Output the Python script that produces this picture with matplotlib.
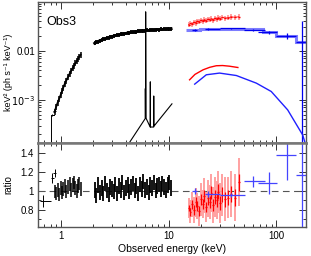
import numpy as np
import matplotlib
matplotlib.use("Agg")
import matplotlib.pyplot as plt
from matplotlib.ticker import FixedLocator, FixedFormatter, NullFormatter, LogLocator, MultipleLocator

plt.rcParams['font.family'] = ['Liberation Sans', 'DejaVu Sans']

# ---- black: soft X-ray data (two segments) ----
e_lo = [0.87, 0.90, 0.93, 0.96, 0.99, 1.02, 1.05, 1.08, 1.12, 1.16,
        1.20, 1.24, 1.28, 1.32, 1.36, 1.40, 1.44, 1.48, 1.52]
f_lo = [5.6e-4, 7.2e-4, 8.8e-4, 1.05e-3, 1.25e-3, 1.5e-3, 1.8e-3, 2.1e-3, 2.5e-3, 2.9e-3,
        3.4e-3, 3.9e-3, 4.4e-3, 5.0e-3, 5.6e-3, 6.2e-3, 6.9e-3, 7.6e-3, 8.3e-3]
r_lo = [0.99, 0.97, 1.01, 0.96, 1.03, 0.98, 1.02, 1.05, 0.99, 1.04,
        1.07, 1.01, 1.06, 1.09, 1.03, 1.00, 1.05, 1.08, 1.02]

e_hi = [2.05, 2.13, 2.21, 2.29, 2.38, 2.47, 2.56, 2.66, 2.76, 2.86, 2.97, 3.08, 3.20, 3.32,
        3.45, 3.58, 3.71, 3.85, 4.00, 4.15, 4.31, 4.47, 4.64, 4.82, 5.00, 5.19, 5.39, 5.59,
        5.80, 6.02, 6.25, 6.49, 6.73, 6.99, 7.25, 7.53, 7.81, 8.11, 8.42, 8.74, 9.07, 9.41,
        9.77, 10.14, 10.52]
f_hi = [0.0142, 0.0150, 0.0154, 0.0161, 0.0165, 0.0172, 0.0175, 0.0182, 0.0186, 0.0192,
        0.0195, 0.0199, 0.0205, 0.0207, 0.0213, 0.0216, 0.0219, 0.0224, 0.0226, 0.0231,
        0.0233, 0.0237, 0.0239, 0.0243, 0.0244, 0.0249, 0.0250, 0.0254, 0.0253, 0.0258,
        0.0262, 0.0259, 0.0264, 0.0266, 0.0263, 0.0269, 0.0271, 0.0268, 0.0274, 0.0272,
        0.0276, 0.0273, 0.0279, 0.0275, 0.0280]
r_hi = [1.01, 0.95, 1.06, 0.98, 1.03, 0.97, 1.08, 1.00, 0.96, 1.04, 1.02, 0.99, 1.07, 0.97,
        1.05, 1.01, 1.09, 0.98, 1.03, 1.06, 0.99, 1.04, 1.08, 1.00, 1.05, 0.97, 1.07, 1.02,
        1.10, 1.01, 1.04, 0.98, 1.06, 1.03, 1.09, 1.00, 1.05, 1.07, 1.02, 1.08, 1.04, 1.01,
        1.06, 1.09, 1.03]

# low-energy binned points in the ratio panel
e_first = [0.68, 0.83, 0.87]
e_first_lo = [0.64, 0.80, 0.85]
e_first_hi = [0.80, 0.86, 0.90]
f_first = [1.0e-4, 4.9e-4, 5.9e-4]
r_first = [0.895, 1.135, 1.19]
r_first_err = [0.06, 0.05, 0.04]

# ---- red: hard X-ray data ----
e_red = [15.3, 15.9, 16.5, 17.1, 17.8, 18.4, 19.1, 19.9, 20.6, 21.4, 22.2, 23.1,
         24.0, 24.9, 25.8, 26.8, 27.8, 28.9, 30.0, 31.5, 33.2, 35.5, 38.0, 41.0, 44.5]
f_red = [0.034, 0.036, 0.035, 0.038, 0.037, 0.040, 0.039, 0.042, 0.040, 0.043, 0.041, 0.044,
         0.043, 0.045, 0.042, 0.046, 0.044, 0.047, 0.045, 0.048, 0.046, 0.047, 0.049, 0.048, 0.049]
r_red = [0.82, 0.78, 0.86, 0.80, 0.88, 0.84, 0.79, 0.91, 0.86, 0.95, 0.83, 0.92,
         0.88, 0.98, 0.85, 0.94, 0.90, 0.99, 0.87, 0.96, 0.91, 0.93, 0.97, 0.93, 1.09]
r_red_err = [0.10, 0.12, 0.13, 0.14, 0.15, 0.14, 0.16, 0.17, 0.15, 0.18, 0.16, 0.19,
             0.18, 0.20, 0.19, 0.21, 0.20, 0.22, 0.21, 0.22, 0.23, 0.22, 0.24, 0.25, 0.25]

e_red_model = [15.6, 17.5, 20.8, 24.0, 27.6, 31.6, 36.5, 43.8]
f_red_model = [2.56e-3, 3.3e-3, 4.09e-3, 4.6e-3, 4.95e-3, 5.0e-3, 4.85e-3, 4.56e-3]

# ---- blue: BAT data ----
e_blue = [17.4, 23.0, 38.0, 61.0, 86.0, 126.0, 174.0]
e_blue_lo = [16.5, 21.5, 30.0, 50.0, 68.0, 100.0, 152.0]
e_blue_hi = [18.3, 30.0, 51.0, 78.0, 102.0, 152.0, 197.0]
f_blue = [0.0268, 0.0278, 0.0285, 0.0268, 0.0237, 0.0202, 0.0150]
f_blue_dn = [0.0010, 0.0010, 0.0008, 0.0012, 0.0020, 0.0030, 0.0149]
f_blue_up = [0.0010, 0.0010, 0.0008, 0.0012, 0.0020, 0.0030, 0.0260]
r_blue = [1.00, 0.97, 0.955, 1.10, 1.08, 1.38, 1.17]
r_blue_dn = [0.03, 0.03, 0.02, 0.055, 0.11, 0.27, 1.2]
r_blue_up = [0.03, 0.03, 0.02, 0.055, 0.12, 0.13, 1.2]

blue_step_edges = [14.6, 19.3, 30.0, 50.0, 75.0, 100.0, 152.0, 197.0]
blue_step_flux = [0.0268, 0.0281, 0.0281, 0.0275, 0.0236, 0.0202, 0.0153]

e_blue_model = [17.4, 22.3, 29.6, 42.4, 65.0, 89.4, 127.0, 175.0, 185.0]
f_blue_model = [2.09e-3, 3.24e-3, 3.51e-3, 3.13e-3, 2.19e-3, 1.48e-3, 6.25e-4, 1.93e-4, 1.3e-4]

# ---- black model component (continuum + Fe lines) ----
e_comp = [4.35, 6.06, 6.06, 6.07, 6.10, 6.10, 6.13, 6.72, 6.74, 6.76, 7.24, 7.25, 7.27, 10.7]
f_comp = [1.39e-4, 4.2e-4, 1.7e-3, 4.25e-4, 4.3e-4, 0.062, 4.3e-4, 2.8e-4, 2.33e-3, 2.8e-4,
          2.8e-4, 1.2e-3, 2.9e-4, 8.3e-4]
e_edge = [0.80, 0.80, 0.86]
f_edge = [1.0e-4, 4.9e-4, 4.9e-4]

fig = plt.figure(figsize=(3.11, 2.56), dpi=100)
ax1 = fig.add_axes([0.122, 0.443, 0.862, 0.549])
ax2 = fig.add_axes([0.122, 0.113, 0.862, 0.330], sharex=ax1)

for ax in (ax1, ax2):
    ax.set_xscale('log')
    for s in ax.spines.values():
        s.set_color('#555555')
        s.set_linewidth(1.0)
    ax.tick_params(which='both', direction='in', top=True, right=True, labelsize=7,
                   color='#333333', width=0.7, pad=3)
    ax.tick_params(which='major', length=5)
    ax.tick_params(which='minor', length=2.5)

ax1.spines['bottom'].set_linewidth(1.8)
ax1.spines['bottom'].set_color('#777777')
ax2.spines['top'].set_linewidth(1.8)
ax2.spines['top'].set_color('#777777')

# top panel
ax1.errorbar(e_lo, f_lo, yerr=[0.14 * f for f in f_lo], fmt='none', ecolor='k', elinewidth=1.1)
ax1.errorbar(e_hi, f_hi, yerr=[0.09 * f for f in f_hi], fmt='none', ecolor='k', elinewidth=1.3)
ax1.plot(e_hi, f_hi, color='k', lw=2.0)
ax1.plot(e_lo, f_lo, color='k', lw=1.3)
ax1.errorbar(e_first[1:], f_first[1:],
             xerr=[[e - l for e, l in zip(e_first[1:], e_first_lo[1:])],
                   [h - e for e, h in zip(e_first[1:], e_first_hi[1:])]],
             yerr=[0.05 * f for f in f_first[1:]], fmt='none', ecolor='k', elinewidth=0.7)
ax1.plot(e_edge, f_edge, color='k', lw=0.7)
ax1.plot(e_comp, f_comp, color='k', lw=0.8)

ax1.errorbar(e_red, f_red, yerr=[0.12 * f for f in f_red], fmt='none', ecolor='#ff9a9a',
             elinewidth=1.3)
ax1.errorbar(e_red, f_red, xerr=[0.02 * e for e in e_red], fmt='none', ecolor='red',
             elinewidth=1.0)
ax1.plot(e_red, f_red, color='red', lw=0.6)
ax1.plot(e_red_model, f_red_model, color='red', lw=1.0)

ax1.stairs(blue_step_flux, blue_step_edges, baseline=None, color='#6f6fff', lw=2.2, alpha=0.9)
ax1.errorbar(e_blue, f_blue,
             xerr=[[e - l for e, l in zip(e_blue, e_blue_lo)],
                   [h - e for e, h in zip(e_blue, e_blue_hi)]],
             yerr=[f_blue_dn, f_blue_up], fmt='none', ecolor='#0000ee', elinewidth=0.9)
ax1.plot(e_blue_model, f_blue_model, color='#2020ff', lw=1.0)

ax1.set_ylim(1.35e-4, 0.098)
ax1.set_yscale('log')
ax1.yaxis.set_major_locator(FixedLocator([1e-3, 1e-2]))
ax1.yaxis.set_major_formatter(FixedFormatter(['$10^{-3}$', '0.01']))
ax1.yaxis.set_minor_locator(LogLocator(base=10, subs=np.arange(2, 10)))
ax1.yaxis.set_minor_formatter(NullFormatter())
ax1.tick_params(labelbottom=False)
ax1.tick_params(axis='y', pad=2)
ax1.set_ylabel('keV² (ph s⁻¹ keV⁻¹)', fontsize=6.5)
ax1.yaxis.set_label_coords(-0.092, 0.5)
ax1.text(0.03, 0.86, 'Obs3', transform=ax1.transAxes, fontsize=9, va='center')

# ratio panel
ax2.axhline(1.0, color='#555555', lw=0.8, ls=(0, (6, 4)))
ax2.errorbar(e_lo, r_lo, yerr=0.07, fmt='none', ecolor='k', elinewidth=1.1)
ax2.errorbar(e_hi, r_hi, yerr=0.08, fmt='none', ecolor='k', elinewidth=1.3)
ax2.errorbar(e_first, r_first,
             xerr=[[e - l for e, l in zip(e_first, e_first_lo)],
                   [h - e for e, h in zip(e_first, e_first_hi)]],
             yerr=r_first_err, fmt='none', ecolor='k', elinewidth=0.7)
ax2.errorbar(e_red, r_red, yerr=r_red_err, fmt='none', ecolor='#ff9a9a', elinewidth=1.3)
ax2.errorbar(e_red, r_red, yerr=[0.35 * r for r in r_red_err], xerr=[0.02 * e for e in e_red],
             fmt='none', ecolor='red', elinewidth=0.9)
ax2.errorbar(e_blue, r_blue,
             xerr=[[e - l for e, l in zip(e_blue, e_blue_lo)],
                   [h - e for e, h in zip(e_blue, e_blue_hi)]],
             yerr=[r_blue_dn, r_blue_up], fmt='none', ecolor='#4444ff', elinewidth=0.9)

ax2.set_ylim(0.62, 1.506)
ax2.yaxis.set_major_locator(FixedLocator([0.8, 1.0, 1.2, 1.4]))
ax2.yaxis.set_major_formatter(FixedFormatter(['0.8', '1', '1.2', '1.4']))
ax2.yaxis.set_minor_locator(MultipleLocator(0.1))
ax2.set_ylabel('ratio', fontsize=7)
ax2.yaxis.set_label_coords(-0.092, 0.5)
ax2.set_xlim(0.61, 188)
ax2.xaxis.set_major_locator(FixedLocator([1, 10, 100]))
ax2.xaxis.set_major_formatter(FixedFormatter(['1', '10', '100']))
ax2.xaxis.set_minor_locator(LogLocator(base=10, subs=np.arange(2, 10)))
ax2.xaxis.set_minor_formatter(NullFormatter())
ax2.set_xlabel('Observed energy (keV)', fontsize=7.5, labelpad=2)

fig.savefig('out.png', dpi=100)
